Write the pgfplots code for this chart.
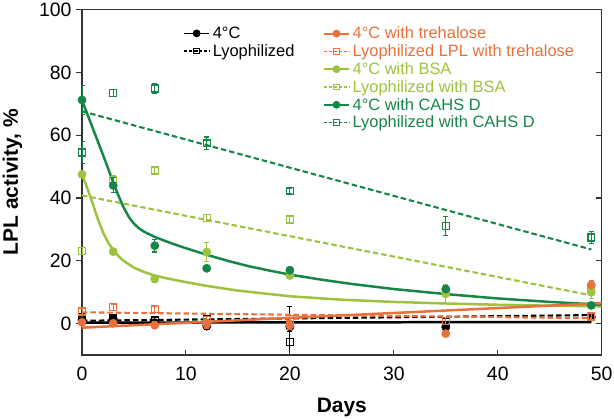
\documentclass[border=0pt]{standalone}
\usepackage{fontspec}
\setmainfont{Liberation Sans}
\usepackage{pgfplots}
\pgfplotsset{compat=1.18}
\definecolor{treh}{HTML}{E8703C}
\definecolor{bsa}{HTML}{9DC23E}
\definecolor{cahs}{HTML}{168648}
\definecolor{frame}{HTML}{333333}

\pgfplotsset{
  lplframe/.style={
    scale only axis, width=519.7bp, height=345.5bp,
    xmin=0, xmax=50, ymin=-10, ymax=100,
    axis line style={frame, line width=1.1pt},
    major tick length=5.5bp,
    every tick/.style={frame, line width=1.1pt},
    legend cell align=left,
    legend style={draw=none, fill=none, font=\fontsize{16.5}{17}\selectfont,
      row sep=2.4pt, column sep=1.5pt, inner sep=0pt, nodes={inner sep=1pt}},
    legend image code/.code={\draw[mark repeat=2,mark phase=2,#1]
      plot coordinates {(0cm,0cm) (0.45cm,0cm) (0.9cm,0cm)};},
  },
  pts/.style={only marks, forget plot,
    error bars/y dir=both, error bars/y explicit,
    error bars/error bar style={line width=1.1pt, solid},
    error bars/error mark options={rotate=90, mark size=2.6pt, line width=1.1pt}},
  dot/.style={mark=*, mark size=4.2pt},
  box/.style={mark=square, mark size=3.5pt, mark options={line width=1.4pt, solid}},
  fit/.style={no marks, forget plot, line width=2.5pt},
  dfit/.style={no marks, forget plot, line width=2.1pt, dash pattern=on 5.5pt off 3pt},
  limg/.style={line width=1.8pt, mark=*, mark size=3pt},
  dimg/.style={line width=1.8pt, dash pattern=on 3pt off 2pt, mark=square, mark size=2.8pt, mark options={solid, line width=1.1pt}},
}

\begin{document}
\begin{tikzpicture}
% black series, left ticks, first legend
\begin{axis}[lplframe, name=ax,
    xtick=\empty, ytick={0,20,...,100}, ytick pos=left, tick align=outside,
    yticklabels={},
    legend style={at={(0.194,0.953)}, anchor=north west}]
  \addlegendimage{black, limg}
  \addlegendentry{4°C}
  \addlegendimage{black, dimg}
  \addlegendentry{Lyophilized}

  \addplot[fit, black] coordinates {(0,0.3) (49,0.5)};
  \addplot[dfit, black] coordinates {(0,0.9) (49,2.7)};
  \addplot[pts, black, box] coordinates {
    (0,2.0) +- (0,1) (3,1.8) +- (0,1) (7,1.0) +- (0,1) (12,1.4) +- (0,1)
    (20,-5.9) +- (0,11.4) (35,0.5) +- (0,1.5) (49,2.1) +- (0,1)};
  \addplot[pts, black, dot] coordinates {
    (0,1.2) +- (0,1) (3,1.6) +- (0,1) (7,0.3) +- (0,1.5) (12,-0.8) +- (0,1)
    (20,-1.0) +- (0,1.5) (35,-1.1) +- (0,1.5) (49,2.1) +- (0,1)};
\end{axis}

% coloured series, labels, second legend
\begin{axis}[lplframe,
    xtick={0,10,...,50}, ytick={0,20,...,100},
    xtick pos=bottom, ytick pos=right, yticklabel pos=left, tick align=inside,
    ticklabel style={font=\fontsize{19.5}{20}\selectfont},
    yticklabel style={xshift=-7bp}, xticklabel style={yshift=-8bp},
    /pgf/number format/assume math mode=true,
    xlabel={Days}, ylabel={LPL activity, \%},
    xlabel shift=11bp, ylabel shift=10bp,
    label style={font=\fontsize{21}{22}\selectfont\bfseries},
    legend style={at={(0.463,0.953)}, anchor=north west}]
  \addlegendimage{treh, limg}
  \addlegendentry{\color{treh}4°C with trehalose}
  \addlegendimage{treh, dimg}
  \addlegendentry{\color{treh}Lyophilized LPL with trehalose}
  \addlegendimage{bsa, limg}
  \addlegendentry{\color{bsa}4°C with BSA}
  \addlegendimage{bsa, dimg}
  \addlegendentry{\color{bsa}Lyophilized with BSA}
  \addlegendimage{cahs, limg}
  \addlegendentry{\color{cahs}4°C with CAHS D}
  \addlegendimage{cahs, dimg}
  \addlegendentry{\color{cahs}Lyophilized with CAHS D}

  % fitted lines
  \addplot[dfit, cahs] coordinates {(0,67.6) (49,23.6)};
  \addplot[dfit, bsa] coordinates {(0,40.8) (49,9.0)};
  \addplot[dfit, treh] coordinates {(0,3.6) (49,1.7)};
  \addplot[fit, bsa] coordinates {
    (0,47.5) (0.5,43.2) (1,38.5) (1.5,33.5) (2,29.2) (2.5,25.9) (3,23.4)
    (3.5,21.5) (4,20.0) (5,17.8) (6,16.4) (7,15.3) (8,14.5) (10,13.2)
    (12,12.0) (15,10.5) (20,8.7) (25,7.6) (30,6.9) (35,6.4) (40,6.0)
    (45,5.7) (50,5.5)};
  \addplot[fit, cahs] coordinates {
    (0,71.0) (0.5,66.8) (1,62.5) (1.5,58.2) (2,53.9) (2.5,49.5) (3,45.0)
    (3.5,40.8) (4,37.0) (4.5,34.0) (5,31.8) (5.5,30.3) (6,29.2) (7,27.6)
    (8,26.3) (9,25.1) (10,24.0) (12,21.9) (14,20.0) (16,18.3) (18,16.9)
    (20,15.6) (23,14.0) (26,12.6) (30,11.0) (35,9.4) (40,8.0) (45,6.9)
    (50,6.0)};
  \addplot[fit, treh] coordinates {(0,-1.3) (50,6.5)};

  % measured points
  \addplot[pts, cahs, box] coordinates {
    (0,54.5) +- (0,3.5) (3,73.4) +- (0,1.2) (7,74.8) +- (0,1.5)
    (12,57.4) +- (0,2) (20,42.3) +- (0,0.8) (35,31.0) +- (0,3)
    (49,27.4) +- (0,1.8)};
  \addplot[pts, bsa, box] coordinates {
    (0,23.1) +- (0,1) (3,45.7) +- (0,1.5) (7,48.7) +- (0,1)
    (12,33.6) +- (0,1) (20,33.1) +- (0,1) (35,10.0) +- (0,1.5)
    (49,11.5) +- (0,1.5)};
  \addplot[pts, treh, box] coordinates {
    (0,3.8) +- (0,1) (3,5.2) +- (0,1) (7,4.6) +- (0,1) (12,1.2) +- (0,1)
    (20,1.5) +- (0,1) (35,0.8) +- (0,1) (49,2.2) +- (0,1)};
  \addplot[pts, bsa, dot] coordinates {
    (0,47.5) +- (0,1) (3,22.9) +- (0,1) (7,14.2) +- (0,1)
    (12,22.8) +- (0,3) (20,15.3) +- (0,1) (35,9.5) +- (0,3)
    (49,10.0) +- (0,2)};
  \addplot[pts, cahs, dot] coordinates {
    (0,71.2) +- (0,4.6) (3,44.0) +- (0,2.4) (7,24.8) +- (0,2)
    (12,17.6) +- (0,0.5) (20,17.0) +- (0,1) (35,11.0) +- (0,1)
    (49,5.8) +- (0,1)};
  \addplot[pts, treh, dot] coordinates {
    (0,0.4) +- (0,1) (3,0.1) +- (0,0.8) (7,-0.5) +- (0,1)
    (12,-0.2) +- (0,1.5) (20,-0.5) +- (0,1.5) (35,-3.2) +- (0,1)
    (49,12.3) +- (0,1.5)};
\end{axis}
\pgfresetboundingbox
\path[use as bounding box] ([xshift=-82bp,yshift=-64bp]ax.south west)
  rectangle ([xshift=12.3bp,yshift=9.5bp]ax.north east);
\end{tikzpicture}
\end{document}
